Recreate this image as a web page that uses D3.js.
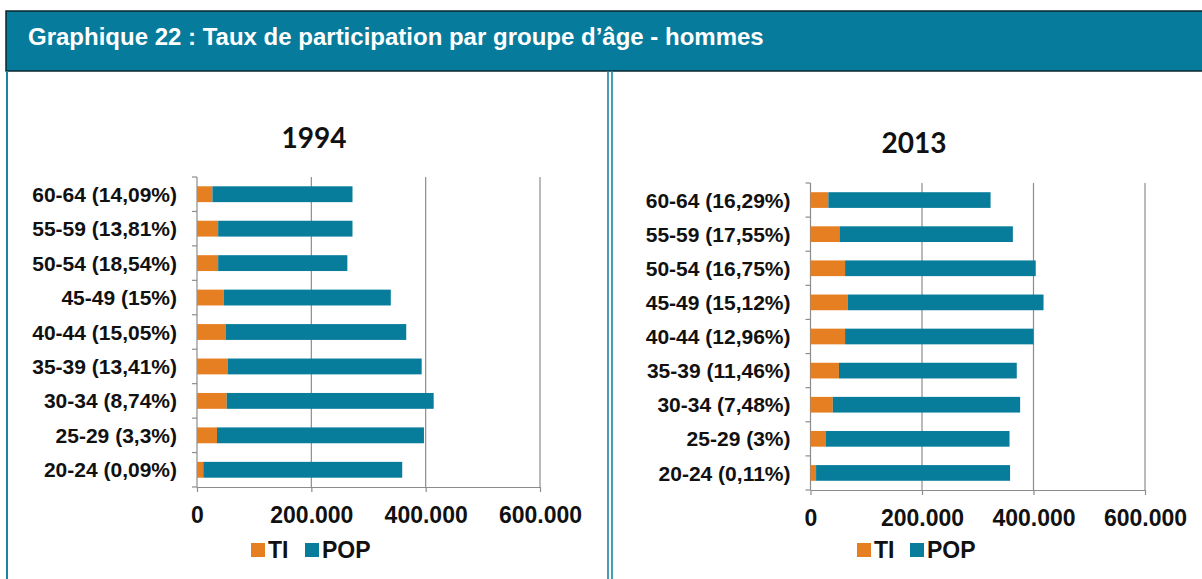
<!DOCTYPE html>
<html>
<head>
<meta charset="utf-8">
<script src="https://cdn.jsdelivr.net/npm/d3@7"></script>
<style>
  body { margin: 0; background: #fff; }
  svg { display: block; }
  .lbl { font-family: "Liberation Sans", Arial, sans-serif; font-weight: bold; fill: #111; }
</style>
</head>
<body>
<svg id="chart" width="1202" height="579"></svg>
<script>
// data
var ageGroups = ["60-64", "55-59", "50-54", "45-49", "40-44", "35-39", "30-34", "25-29", "20-24"];
var seriesNames = ["TI", "POP"];
var seriesColors = ["#e67e22", "#077d9b"];
var xTicks = [0, 200000, 400000, 600000];

var pct1994 = ["14,09%", "13,81%", "18,54%", "15%", "15,05%", "13,41%", "8,74%", "3,3%", "0,09%"];
var ti1994  = [27000, 37000, 37000, 47000, 50000, 54000, 52000, 35000, 11000];
var pop1994 = [245000, 235000, 226000, 292000, 316000, 339000, 362000, 362000, 348000];

var pct2013 = ["16,29%", "17,55%", "16,75%", "15,12%", "12,96%", "11,46%", "7,48%", "3%", "0,11%"];
var ti2013  = [32000, 52000, 62000, 67000, 62000, 51000, 40000, 27000, 10000];
var pop2013 = [291000, 311000, 342000, 351000, 338000, 319000, 336000, 330000, 348000];

var fr = d3.formatLocale({decimal: ",", thousands: ".", grouping: [3], currency: ["", " €"]});
var fmt = fr.format(",");

var svg = d3.select("#chart");

// header band
svg.append("rect")
    .attr("x", 6).attr("y", 11)
    .attr("width", 1200).attr("height", 60)
    .attr("fill", "#077b9b")
    .attr("stroke", "#0b2630").attr("stroke-width", 1.5);
svg.append("text")
    .attr("class", "lbl")
    .attr("x", 28).attr("y", 45)
    .style("font-size", "24px")
    .style("fill", "#fff")
    .text("Graphique 22 : Taux de participation par groupe d\u2019\u00e2ge - hommes");

// frame lines
svg.append("line").attr("x1", 7).attr("x2", 7).attr("y1", 71).attr("y2", 579)
    .attr("stroke", "#1a84a6").attr("stroke-width", 2);
[608, 612].forEach(function (xx) {
    svg.append("line").attr("x1", xx).attr("x2", xx).attr("y1", 71).attr("y2", 579)
        .attr("stroke", "#1a84a6").attr("stroke-width", 1.6);
});

function drawChart(cfg) {
    var g = svg.append("g");

    var x = d3.scaleLinear().domain([0, 600000]).range([cfg.left, cfg.right]);
    var y = d3.scaleBand().domain(ageGroups).range([cfg.top, cfg.bottom])
        .paddingInner(0.54).paddingOuter(0.27);

    var rows = ageGroups.map(function (a, i) {
        return {age: a, TI: cfg.ti[i], POP: cfg.pop[i]};
    });
    var stacked = d3.stack().keys(seriesNames)(rows);

    // title
    g.append("text")
        .attr("x", cfg.titleX).attr("y", cfg.titleY)
        .attr("text-anchor", "middle")
        .style("font-family", "Lato, 'Open Sans', sans-serif")
        .style("font-weight", "bold")
        .style("font-size", "28px")
        .style("fill", "#111")
        .text(cfg.title);

    // gridlines
    g.selectAll(".grid")
        .data(xTicks.slice(1))
        .enter().append("line")
        .attr("x1", function (d) { return x(d); })
        .attr("x2", function (d) { return x(d); })
        .attr("y1", cfg.top).attr("y2", cfg.bottom)
        .attr("stroke", "#8c8c8c").attr("stroke-width", 1.2);

    // x axis
    var xAxis = g.append("g")
        .attr("transform", "translate(0," + cfg.bottom + ")")
        .call(d3.axisBottom(x).tickValues(xTicks).tickFormat(fmt)
            .tickSize(5).tickSizeOuter(0).tickPadding(15));
    xAxis.select(".domain").attr("stroke", "#8c8c8c").attr("stroke-width", 1.2);
    xAxis.selectAll(".tick line").attr("stroke", "#8c8c8c").attr("stroke-width", 1.2);
    xAxis.selectAll(".tick text")
        .attr("class", "lbl")
        .style("font-size", "23px")
        .attr("fill", "#111");

    // y axis line with ticks between categories
    g.append("line")
        .attr("x1", x(0)).attr("x2", x(0))
        .attr("y1", cfg.top).attr("y2", cfg.bottom)
        .attr("stroke", "#8c8c8c").attr("stroke-width", 1.2);
    var step = y.step();
    g.selectAll(".ytick")
        .data(d3.range(ageGroups.length + 1))
        .enter().append("line")
        .attr("x1", x(0) - 5).attr("x2", x(0))
        .attr("y1", function (i) { return cfg.top + i * step; })
        .attr("y2", function (i) { return cfg.top + i * step; })
        .attr("stroke", "#8c8c8c").attr("stroke-width", 1.2);

    // category labels
    g.selectAll(".ylab")
        .data(ageGroups)
        .enter().append("text")
        .attr("class", "lbl")
        .attr("x", x(0) - 20)
        .attr("y", function (d) { return y(d) + y.bandwidth() / 2; })
        .attr("dy", "0.36em")
        .attr("text-anchor", "end")
        .style("font-size", "21px")
        .text(function (d, i) { return d + " (" + cfg.pct[i] + ")"; });

    // bars
    g.selectAll(".series")
        .data(stacked)
        .enter().append("g")
        .attr("fill", function (d, i) { return seriesColors[i]; })
        .selectAll("rect")
        .data(function (d) { return d; })
        .enter().append("rect")
        .attr("x", function (d) { return x(d[0]); })
        .attr("y", function (d) { return y(d.data.age); })
        .attr("width", function (d) { return x(d[1]) - x(d[0]); })
        .attr("height", y.bandwidth());

    // legend
    var lg = g.selectAll(".legend")
        .data(seriesNames)
        .enter().append("g")
        .attr("transform", function (d, i) { return "translate(" + cfg.legendX[i] + "," + cfg.legendY + ")"; });
    lg.append("rect")
        .attr("width", 14).attr("height", 14)
        .attr("fill", function (d, i) { return seriesColors[i]; });
    lg.append("text")
        .attr("class", "lbl")
        .attr("x", 17).attr("y", 15)
        .style("font-size", "23px")
        .text(function (d) { return d; });
}

drawChart({
    title: "1994", titleX: 314, titleY: 148,
    left: 197, right: 540, top: 177, bottom: 487,
    ti: ti1994, pop: pop1994, pct: pct1994,
    legendX: [251, 305], legendY: 543
});

drawChart({
    title: "2013", titleX: 914, titleY: 153,
    left: 810.5, right: 1145, top: 183, bottom: 490,
    ti: ti2013, pop: pop2013, pct: pct2013,
    legendX: [857, 910], legendY: 543
});
</script>
</body>
</html>
